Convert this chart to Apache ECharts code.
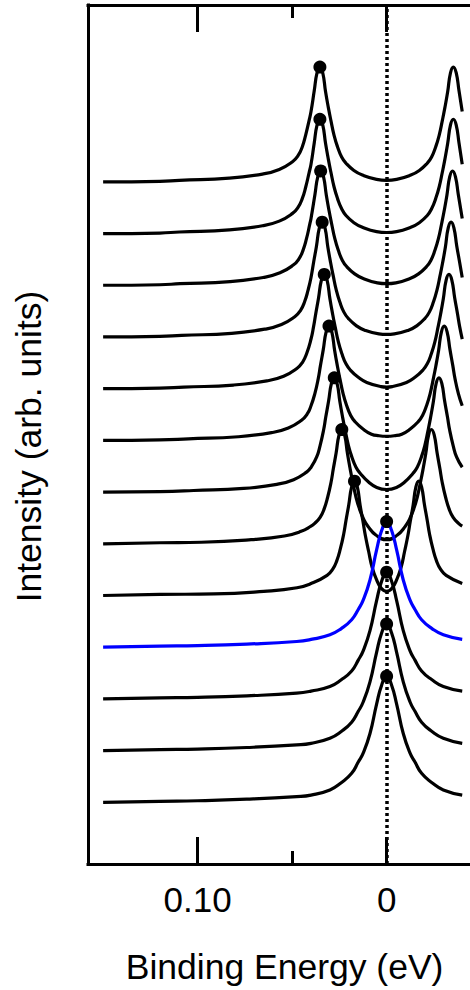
<!DOCTYPE html>
<html><head><meta charset="utf-8">
<script src="https://cdn.jsdelivr.net/npm/echarts@6/dist/echarts.min.js"></script>
<style>html,body{margin:0;padding:0;background:#fff}#c{width:470px;height:990px}</style>
</head><body><div id="c"></div>
<script>
// Symmetrized spectra: [binding energy (eV), intensity (arb. units)], half E >= 0, top curve first
const curve0 = [[0.15,0],[0.12,0.01],[0.1097,0.03],[0.0833,0.07],[0.0657,0.15],[0.0568,0.24],[0.0498,0.39],[0.0468,0.51],[0.0446,0.68],[0.0428,0.91],[0.0410,1.19],[0.0400,1.36],[0.0383,1.76],[0.0368,2.11],[0.0353,2.22],[0.0338,2.11],[0.0323,1.74],[0.0308,1.43],[0.0295,1.19],[0.0278,0.90],[0.0260,0.68],[0.0238,0.48],[0.0215,0.36],[0.0173,0.22],[0.0128,0.13],[0.0053,0.048],[0,0.03]];
const curve1 = [[0.15,0],[0.12,0.01],[0.1097,0.03],[0.0833,0.07],[0.0657,0.15],[0.0568,0.24],[0.0498,0.39],[0.0468,0.51],[0.0446,0.68],[0.0428,0.90],[0.0410,1.18],[0.0400,1.34],[0.0383,1.75],[0.0368,2.10],[0.0353,2.21],[0.0338,2.10],[0.0323,1.74],[0.0308,1.43],[0.0295,1.19],[0.0278,0.90],[0.0260,0.68],[0.0238,0.48],[0.0215,0.35],[0.0173,0.21],[0.0128,0.12],[0.0053,0.037],[0,0.02]];
const curve2 = [[0.15,0],[0.12,0.01],[0.1093,0.03],[0.0829,0.07],[0.0653,0.15],[0.0564,0.24],[0.0494,0.39],[0.0464,0.51],[0.0442,0.68],[0.0424,0.90],[0.0406,1.19],[0.0400,1.29],[0.0379,1.76],[0.0364,2.10],[0.0349,2.21],[0.0334,2.10],[0.0319,1.74],[0.0304,1.43],[0.0291,1.19],[0.0274,0.90],[0.0256,0.68],[0.0234,0.48],[0.0211,0.36],[0.0169,0.22],[0.0124,0.13],[0.0049,0.046],[0,0.03]];
const curve3 = [[0.15,0],[0.12,0.01],[0.1085,0.03],[0.0821,0.07],[0.0645,0.15],[0.0556,0.24],[0.0486,0.39],[0.0456,0.51],[0.0434,0.68],[0.0416,0.90],[0.0400,1.15],[0.0386,1.45],[0.0371,1.76],[0.0356,2.11],[0.0341,2.22],[0.0326,2.11],[0.0311,1.74],[0.0296,1.43],[0.0283,1.19],[0.0266,0.90],[0.0248,0.68],[0.0226,0.48],[0.0203,0.36],[0.0161,0.22],[0.0116,0.13],[0.0041,0.06],[0,0.05]];
const curve4 = [[0.15,0],[0.12,0.01],[0.1074,0.03],[0.0810,0.07],[0.0634,0.15],[0.0545,0.24],[0.0475,0.39],[0.0445,0.51],[0.0423,0.68],[0.0400,0.96],[0.0387,1.19],[0.0375,1.45],[0.0360,1.76],[0.0345,2.10],[0.0330,2.21],[0.0315,2.10],[0.0300,1.74],[0.0285,1.43],[0.0272,1.19],[0.0255,0.90],[0.0237,0.68],[0.0215,0.48],[0.0192,0.36],[0.0150,0.22],[0.0105,0.12],[0.0030,0.04],[0,0.03]];
const curve5 = [[0.15,0],[0.12,0.01],[0.1049,0.03],[0.0785,0.07],[0.0609,0.15],[0.0520,0.24],[0.0450,0.39],[0.0420,0.51],[0.0400,0.67],[0.0380,0.90],[0.0362,1.19],[0.0350,1.45],[0.0335,1.76],[0.0320,2.10],[0.0305,2.21],[0.0290,2.10],[0.0275,1.74],[0.0260,1.43],[0.0247,1.19],[0.0230,0.90],[0.0212,0.68],[0.0190,0.48],[0.0167,0.36],[0.0125,0.22],[0.0080,0.12],[0.0040,0.09],[0,0.08]];
const curve6 = [[0.15,0],[0.12,0.01],[0.1021,0.03],[0.0757,0.07],[0.0581,0.15],[0.0492,0.24],[0.0422,0.39],[0.0400,0.48],[0.0370,0.68],[0.0352,0.90],[0.0334,1.19],[0.0322,1.45],[0.0307,1.76],[0.0292,2.10],[0.0277,2.21],[0.0262,2.10],[0.0247,1.74],[0.0232,1.43],[0.0219,1.19],[0.0202,0.90],[0.0184,0.68],[0.0162,0.48],[0.0139,0.36],[0.0097,0.20],[0.0052,0.09],[0,0.05]];
const curve7 = [[0.15,0],[0.12,0.02],[0.0981,0.03],[0.0717,0.08],[0.0541,0.15],[0.0452,0.24],[0.0400,0.34],[0.0382,0.39],[0.0352,0.51],[0.0330,0.68],[0.0312,0.90],[0.0294,1.19],[0.0282,1.45],[0.0267,1.76],[0.0252,2.10],[0.0237,2.21],[0.0222,2.10],[0.0207,1.74],[0.0192,1.43],[0.0179,1.19],[0.0162,0.90],[0.0144,0.68],[0.0122,0.48],[0.0099,0.34],[0.0057,0.17],[0,0.08]];
const curve8 = [[0.15,0],[0.12,0.02],[0.0914,0.03],[0.0650,0.08],[0.0474,0.15],[0.0400,0.23],[0.0315,0.39],[0.0285,0.51],[0.0263,0.68],[0.0245,0.90],[0.0227,1.19],[0.0215,1.45],[0.0200,1.76],[0.0185,2.10],[0.0170,2.21],[0.0155,2.10],[0.0140,1.74],[0.0125,1.43],[0.0112,1.15],[0.0095,0.85],[0.0077,0.55],[0.0055,0.32],[0.0030,0.15],[0,0.08]];
const curve9 = [[0.15,0],[0.12,0.02],[0.10,0.03],[0.0740,0.06],[0.0476,0.11],[0.0400,0.15],[0.0300,0.24],[0.0240,0.36],[0.0185,0.53],[0.0150,0.73],[0.0124,0.91],[0.0088,1.30],[0.0053,1.88],[0.0026,2.26],[0,2.43]];
const curve10 = [[0.15,0],[0.12,0.02],[0.10,0.03],[0.0740,0.06],[0.0476,0.11],[0.0400,0.15],[0.0300,0.24],[0.0240,0.37],[0.0185,0.54],[0.0150,0.75],[0.0124,0.93],[0.0088,1.32],[0.0053,1.90],[0.0026,2.28],[0,2.45]];
const curve11 = [[0.15,0],[0.12,0.02],[0.10,0.03],[0.0740,0.06],[0.0476,0.11],[0.0400,0.14],[0.0300,0.24],[0.0240,0.37],[0.0185,0.55],[0.0150,0.76],[0.0124,0.94],[0.0088,1.33],[0.0053,1.90],[0.0026,2.28],[0,2.45]];
const curve12 = [[0.15,0],[0.12,0.02],[0.10,0.03],[0.0740,0.06],[0.0476,0.11],[0.0400,0.14],[0.0300,0.24],[0.0240,0.38],[0.0185,0.56],[0.0150,0.78],[0.0124,0.95],[0.0088,1.33],[0.0053,1.90],[0.0026,2.27],[0,2.44]];

const curves = [curve0, curve1, curve2, curve3, curve4, curve5, curve6, curve7, curve8, curve9, curve10, curve11, curve12];
const highlightIndex = 9;          // blue spectrum
const OFFSET_STEP = 1;             // vertical offset between spectra (arb. units)
const E_END = 0.04;                // spectra symmetrized out to -0.04 eV
const majorTickValues = [0.10, 0];
const majorTickLabels = ['0.10', '0'];
const minorTickValues = [0.05];
const xTitle = 'Binding Energy (eV)';
const yTitle = 'Intensity (arb. units)';

const FONT = "'Liberation Sans', Arial, sans-serif";
const N = curves.length;

function fullSpectrum(half) {
  const mirrored = half.filter(p => p[0] > 0 && p[0] <= E_END + 1e-9).map(p => [-p[0], p[1]]).reverse();
  return half.concat(mirrored);
}
const offsetOf = i => (N - 1 - i) * OFFSET_STEP;

const lineSeries = curves.map((half, i) => ({
  type: 'line',
  data: fullSpectrum(half).map(p => [p[0], p[1] + offsetOf(i)]),
  showSymbol: false, symbol: 'none',
  smooth: 0.5,
  lineStyle: { color: i === highlightIndex ? '#0000ff' : '#000000', width: 3.2, join: 'round' },
  z: i === highlightIndex ? 4 : 3,
  silent: true, animation: false
}));

const peakData = curves.map((half, i) => {
  const pk = half.reduce((a, b) => (b[1] > a[1] ? b : a));
  return [pk[0], pk[1] + offsetOf(i)];
});

lineSeries[0].markLine = {
  silent: true, symbol: 'none', animation: false,
  label: { show: false },
  lineStyle: { color: '#000', type: [3, 3], width: 3.5 },
  data: [{ xAxis: 0 }]
};

const X_MIN = -0.05, X_MAX = 0.158;
function xAx(pos, values, len, showLine, showLabel) {
  return {
    type: 'value', position: pos, min: X_MIN, max: X_MAX, inverse: true, offset: 0,
    axisLine: { show: showLine, onZero: false, lineStyle: { color: '#000', width: 3, cap: 'square' } },
    axisTick: { show: true, inside: true, length: len, customValues: values, lineStyle: { color: '#000', width: 3 } },
    axisLabel: showLabel ? {
      show: true, customValues: majorTickValues, margin: 18,
      formatter: v => majorTickLabels[majorTickValues.indexOf(v)],
      fontSize: 35, color: '#000', fontFamily: FONT
    } : { show: false },
    splitLine: { show: false }
  };
}
const xAxes = [
  Object.assign(xAx('bottom', majorTickValues, 27, true, true), {
    name: xTitle, nameLocation: 'middle', nameGap: 85,
    nameTextStyle: { fontSize: 35.5, color: '#000', fontFamily: FONT }
  }),
  xAx('bottom', minorTickValues, 13, false, false),
  xAx('top', majorTickValues, 27, true, false),
  xAx('top', minorTickValues, 13, false, false)
];

const chart = echarts.init(document.getElementById('c'), null, { renderer: 'svg' });
chart.setOption({
  animation: false,
  backgroundColor: '#fff',
  grid: { left: 88, top: 5, width: (X_MAX - X_MIN) * 1890, height: 859, containLabel: false, outerBoundsMode: 'none' },
  xAxis: xAxes,
  yAxis: {
    type: 'value', min: -1.193, max: 15.42,
    axisLine: { show: true, onZero: false, lineStyle: { color: '#000', width: 3, cap: 'square' } },
    axisTick: { show: false }, axisLabel: { show: false }, splitLine: { show: false }
  },
  graphic: [{
    type: 'text', x: 29, y: 446.5, rotation: Math.PI / 2, silent: true,
    style: { text: yTitle, fontSize: 35.5, fontFamily: FONT, fill: '#000', align: 'center', verticalAlign: 'middle' }
  }],
  series: lineSeries.concat([{
    type: 'scatter', data: peakData, symbol: 'circle', symbolSize: 13,
    itemStyle: { color: '#000', opacity: 1 }, z: 6, silent: true, animation: false
  }])
});
</script></body></html>
